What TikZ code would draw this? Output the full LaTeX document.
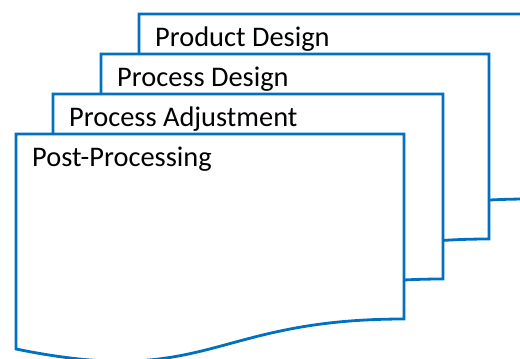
\documentclass[tikz,border=0pt]{standalone}
\usepackage{fontspec}
\setmainfont{Carlito}
\definecolor{docblue}{RGB}{0,112,192}
\tikzset{
  docsheet/.style={draw=docblue, line width=2.8pt, fill=white, line join=miter},
  doclabel/.style={anchor=base west, inner sep=0pt, font=\fontsize{28.4}{34}\selectfont, text=black}
}
% one flow-chart "document" sheet: #1 = left x, #2 = top y, #3 = width, #4 = name, #5 = label
\newcommand{\docsheet}[5]{%
  \draw[docsheet] (#1,#2) -- ({#1+#3},#2) -- ({#1+#3},{#2+185})
    .. controls ({#1+#3/2},{#2+185}) and ({#1+#3/2},{#2+254.7}) .. (#1,{#2+215}) -- cycle;
  \node[doclabel] (#4) at ({#1+16},{#2+32}) {#5};
}
\begin{document}
\begin{tikzpicture}[x=1pt,y=-1pt]
  \useasboundingbox (0,0) rectangle (520,359);
  \clip (0,0) rectangle (520,359);
  \docsheet{139}{14}{390}{product}{Product Design}
  \docsheet{101}{54}{388}{design}{Process Design}
  \docsheet{53}{94}{390}{adjust}{Process Adjustment}
  \docsheet{16}{134}{388}{post}{Post-Processing}
\end{tikzpicture}
\end{document}
